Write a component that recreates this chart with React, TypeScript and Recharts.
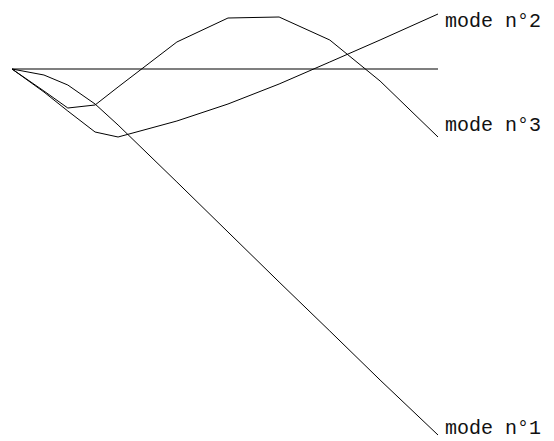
import { Line, LineChart, XAxis, YAxis } from "recharts";

// positions along the beam (0 = clamped end, 1 = free end)
const nodes = [0, 0.075, 0.131, 0.195, 0.249, 0.387, 0.507, 0.627, 0.746, 0.864, 1];
const mode1 = [0, -0.06, -0.16, -0.35, -0.56, -1.13, -1.63, -2.13, -2.62, -3.11, -3.66];
const mode2 = [0, -0.23, -0.42, -0.63, -0.68, -0.52, -0.35, -0.15, 0.07, 0.29, 0.55];
const mode3 = [0, -0.22, -0.39, -0.36, -0.18, 0.27, 0.51, 0.52, 0.29, -0.12, -0.68];
const modeNames = ["mode n°1", "mode n°2", "mode n°3"];

const data = nodes.map((x, i) => ({
  x,
  rest: 0,
  m1: mode1[i],
  m2: mode2[i],
  m3: mode3[i],
}));

const endLabel = (text: string, dy: number) => (props: any) => {
  if (props.index !== nodes.length - 1) return null;
  return (
    <text
      x={props.x + 7}
      y={props.y + dy}
      fontFamily="'Courier New', 'Liberation Mono', monospace"
      fontSize={20}
      fill="#111"
      dominantBaseline="central"
    >
      {text}
    </text>
  );
};

export default function App() {
  return (
    <div style={{ position: "absolute", left: 0, top: 0, background: "#fff" }}>
      <LineChart
        width={554}
        height={441}
        data={data}
        margin={{ top: 0, right: 116, left: 12, bottom: 0 }}
      >
        <XAxis dataKey="x" type="number" domain={[0, 1]} hide />
        <YAxis type="number" domain={[-3.72, 0.69]} hide allowDataOverflow />
        <Line
          dataKey="rest"
          stroke="#555"
          strokeWidth={1.4}
          dot={false}
          isAnimationActive={false}
        />
        <Line
          dataKey="m1"
          stroke="#000"
          strokeWidth={1}
          dot={false}
          label={endLabel(modeNames[0], -7)}
          isAnimationActive={false}
        />
        <Line
          dataKey="m2"
          stroke="#000"
          strokeWidth={1}
          dot={false}
          label={endLabel(modeNames[1], 7)}
          isAnimationActive={false}
        />
        <Line
          dataKey="m3"
          stroke="#000"
          strokeWidth={1}
          dot={false}
          label={endLabel(modeNames[2], -12)}
          isAnimationActive={false}
        />
      </LineChart>
    </div>
  );
}
